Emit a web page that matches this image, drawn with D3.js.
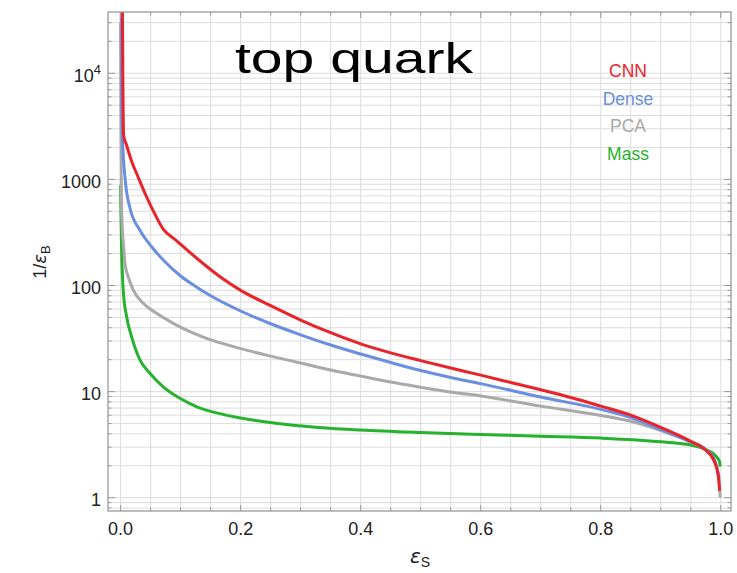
<!DOCTYPE html>
<html>
<head>
<meta charset="utf-8">
<script src="https://cdn.jsdelivr.net/npm/d3@7"></script>
<style>
  body { margin: 0; background: #fff; }
  text { font-family: "Liberation Sans", Arial, Helvetica, sans-serif; }
</style>
</head>
<body>
<div id="chart"></div>
<script>
// ROC-style curves: signal efficiency vs background rejection
var seriesNames = ["CNN", "Dense", "PCA", "Mass"];
var seriesColors = ["#e8242a", "#6a8ee0", "#a9a9a9", "#27b22d"];

var cnnCurve = [[0.003, 40000], [0.004, 6000], [0.005, 2600], [0.01, 2100], [0.018, 1500], [0.029, 1060],
    [0.043, 690], [0.054, 510], [0.071, 340], [0.093, 265], [0.1155, 205], [0.143, 152], [0.171, 115],
    [0.2, 90], [0.25, 64.6], [0.3, 47.3], [0.35, 35.9], [0.4, 28.2], [0.45, 23.2], [0.5, 19.6],
    [0.55, 16.7], [0.6, 14.3], [0.65, 12.2], [0.7, 10.4], [0.75, 8.8], [0.8, 7.3], [0.85, 6.0],
    [0.9, 4.6], [0.95, 3.4], [0.971, 2.92], [0.988, 2.27], [0.996, 1.58], [0.998, 1.16]];

var denseCurve = [[0.001, 40000], [0.0015, 8000], [0.003, 2500], [0.0072, 1060], [0.0155, 540],
    [0.032, 333], [0.0517, 232], [0.071, 174], [0.1, 123], [0.125, 98], [0.15, 80], [0.2, 57.5],
    [0.25, 43.6], [0.3, 34.3], [0.35, 27.5], [0.4, 22.6], [0.45, 18.8], [0.5, 15.8], [0.55, 13.6],
    [0.6, 11.9], [0.7, 8.9], [0.8, 6.8], [0.85, 5.7], [0.9, 4.4], [0.95, 3.35], [0.975, 2.85],
    [0.99, 2.25], [0.997, 1.55]];

var pcaCurve = [[0.0, 30000], [0.0005, 3000], [0.0013, 640], [0.003, 333], [0.0055, 215], [0.0072, 162],
    [0.0127, 121], [0.021, 91], [0.0377, 68], [0.06, 54.7], [0.0877, 44], [0.1155, 36.7], [0.143, 31.8],
    [0.171, 28.3], [0.2, 25.4], [0.25, 21.6], [0.3, 18.6], [0.35, 16.0], [0.4, 14.0], [0.45, 12.3],
    [0.5, 11.0], [0.55, 9.9], [0.6, 9.1], [0.7, 7.3], [0.8, 5.95], [0.85, 5.25], [0.9, 4.3],
    [0.95, 3.35], [0.975, 2.85], [0.99, 2.2], [0.997, 1.5], [0.999, 1.0]];

var massCurve = [[0.0, 880], [0.0005, 500], [0.0017, 215], [0.0043, 91], [0.01, 51], [0.0183, 33],
    [0.032, 20], [0.0488, 14.9], [0.071, 11.1], [0.0988, 8.65], [0.127, 7.2], [0.16, 6.3], [0.2, 5.65],
    [0.24, 5.2], [0.28, 4.88], [0.33, 4.6], [0.4, 4.35], [0.5, 4.12], [0.6, 3.95], [0.7, 3.8],
    [0.8, 3.65], [0.9, 3.37], [0.95, 3.14], [0.977, 2.82], [0.99, 2.53], [0.998, 2.18], [0.999, 1.96]];

var xTicks = [0.0, 0.2, 0.4, 0.6, 0.8, 1.0];
var yTicks = [1, 10, 100, 1000, 10000];

var width = 737,
    height = 573;

var pl = 108, pr = 731, pt = 12, pb = 511;

var x = d3.scaleLinear().domain([-0.021, 1.017]).range([pl, pr]);
var y = d3.scaleLog().domain([0.75, 37800]).range([pb, pt]);

var svg = d3.select("#chart").append("svg")
    .attr("width", width)
    .attr("height", height);

// grid
var xMinor = d3.range(0, 21).map(function (i) { return i * 0.05; });
var yMinor = [];
[0.1, 1, 10, 100, 1000, 10000].forEach(function (d) {
    for (var k = 1; k < 10; k++) {
        var v = d * k;
        if (v >= 0.75 && v <= 37800) yMinor.push(v);
    }
});

var grid = svg.append("g").attr("stroke", "#dcdcdc").attr("stroke-width", 1);
grid.selectAll("line.vx")
    .data(xMinor)
    .enter().append("line")
    .attr("x1", function (d) { return x(d); })
    .attr("x2", function (d) { return x(d); })
    .attr("y1", pt).attr("y2", pb);
grid.selectAll("line.hy")
    .data(yMinor)
    .enter().append("line")
    .attr("x1", pl).attr("x2", pr)
    .attr("y1", function (d) { return y(d); })
    .attr("y2", function (d) { return y(d); });

// curves
svg.append("clipPath").attr("id", "clip")
    .append("rect").attr("x", pl).attr("y", pt)
    .attr("width", pr - pl).attr("height", pb - pt);

var line = d3.line()
    .x(function (d) { return x(d[0]); })
    .y(function (d) { return y(d[1]); })
    .curve(d3.curveMonotoneX);

var curves = [cnnCurve, denseCurve, pcaCurve, massCurve];
var plot = svg.append("g").attr("clip-path", "url(#clip)");
// draw Mass first so CNN sits on top
[3, 2, 1, 0].forEach(function (i) {
    plot.append("path")
        .attr("d", line(curves[i]))
        .attr("fill", "none")
        .attr("stroke", seriesColors[i])
        .attr("stroke-width", 3)
        .attr("stroke-linejoin", "round");
});

// frame + ticks
var frame = svg.append("g").attr("stroke", "#9a9a9a");
frame.append("rect")
    .attr("x", pl).attr("y", pt)
    .attr("width", pr - pl).attr("height", pb - pt)
    .attr("fill", "none").attr("stroke-width", 1.3);

xMinor.forEach(function (d, i) {
    var len = (i % 4 === 0) ? 6 : 3.5;
    frame.append("line").attr("x1", x(d)).attr("x2", x(d))
        .attr("y1", pb).attr("y2", pb - len);
    frame.append("line").attr("x1", x(d)).attr("x2", x(d))
        .attr("y1", pt).attr("y2", pt + len);
});
yMinor.forEach(function (d) {
    var major = yTicks.indexOf(d) >= 0;
    var len = major ? 7 : 3.5;
    frame.append("line").attr("y1", y(d)).attr("y2", y(d))
        .attr("x1", pl).attr("x2", pl + len);
    frame.append("line").attr("y1", y(d)).attr("y2", y(d))
        .attr("x1", pr).attr("x2", pr - len);
});

// tick labels
svg.append("g").selectAll("text")
    .data(xTicks)
    .enter().append("text")
    .attr("x", function (d) { return x(d); })
    .attr("y", 535)
    .attr("text-anchor", "middle")
    .attr("font-size", 18)
    .attr("fill", "#222")
    .text(function (d) { return d.toFixed(1); });

var yl = svg.append("g").selectAll("text")
    .data(yTicks)
    .enter().append("text")
    .attr("x", 101)
    .attr("y", function (d) { return y(d) + 8.5; })
    .attr("text-anchor", "end")
    .attr("font-size", 18)
    .attr("fill", "#222");
yl.each(function (d) {
    var t = d3.select(this);
    if (d === 10000) {
        t.append("tspan").text("10");
        t.append("tspan").attr("font-size", 13).attr("dy", -8).text("4");
    } else {
        t.text(d);
    }
});

// axis labels
svg.append("text")
    .attr("transform", "translate(46,262) rotate(-90)")
    .attr("text-anchor", "middle")
    .attr("font-size", 18)
    .attr("fill", "#222")
    .html('1/<tspan font-family="DejaVu Sans" font-style="italic">ε</tspan><tspan font-size="13" dy="4">B</tspan>');

svg.append("text")
    .attr("x", 420)
    .attr("y", 563)
    .attr("text-anchor", "middle")
    .attr("font-size", 20)
    .attr("fill", "#222")
    .html('<tspan font-family="DejaVu Sans" font-style="italic">ε</tspan><tspan font-size="14" dy="4">S</tspan>');

// title
svg.append("text")
    .attr("x", 354)
    .attr("y", 73)
    .attr("text-anchor", "middle")
    .attr("font-family", "'Comic Sans MS', 'Comic Neue', 'DejaVu Sans', sans-serif")
    .attr("font-size", 42)
    .attr("textLength", 238)
    .attr("lengthAdjust", "spacingAndGlyphs")
    .attr("fill", "#000")
    .text("top quark");

// legend
svg.append("g").selectAll("text")
    .data(seriesNames)
    .enter().append("text")
    .attr("x", 628)
    .attr("y", function (d, i) { return 77 + i * 27.7; })
    .attr("text-anchor", "middle")
    .attr("font-size", 17.5)
    .attr("fill", function (d, i) { return seriesColors[i]; })
    .text(function (d) { return d; });
</script>
</body>
</html>
